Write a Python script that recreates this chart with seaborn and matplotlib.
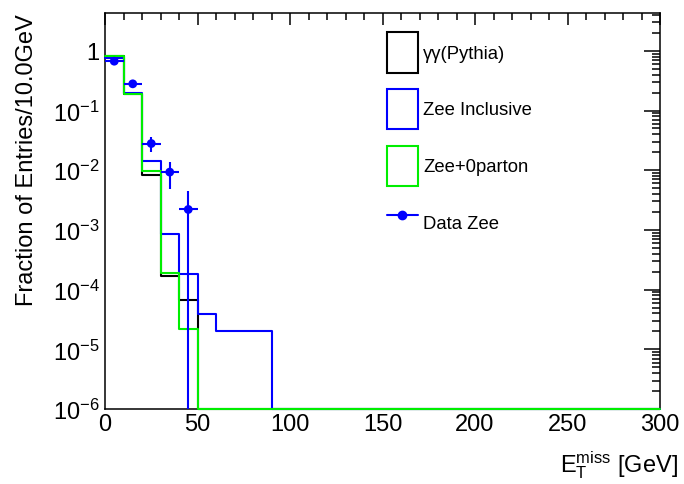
import numpy as np
import pandas as pd
import matplotlib
matplotlib.use("Agg")
import matplotlib.pyplot as plt
import seaborn as sns
from matplotlib.patches import Patch
from matplotlib.lines import Line2D
from matplotlib.ticker import MultipleLocator, LogLocator, FuncFormatter, NullFormatter

# ---------------- data ----------------
bin_width = 10          # GeV
x_max = 300             # GeV
pythia_gg = [0.81, 0.19, 8.4e-3, 1.7e-4, 6.6e-5]
zee_inclusive = [0.76, 0.20, 1.44e-2, 8.4e-4, 1.8e-4, 3.9e-5, 2.0e-5, 2.0e-5, 2.0e-5]
zee_0parton = [0.81, 0.19, 9.7e-3, 1.9e-4, 2.2e-5]
data_met = [5, 15, 25, 35, 45]
data_zee = [0.67, 0.28, 0.028, 0.0093, 0.0022]
data_zee_err = [0.037, 0.025, 0.0079, 0.0045, 0.0022]
series_labels = ["γγ(Pythia)", "Zee Inclusive", "Zee+0parton"]
data_label = "Data Zee"
x_label = r"$\mathregular{E_T^{miss}}$ [GeV]"
y_label = "Fraction of Entries/10.0GeV"
y_min, y_max = 1e-6, 4.3

edges = np.arange(0, x_max + bin_width, bin_width)
centers = edges[:-1] + bin_width / 2

sns.set_theme(style="white")
plt.rcParams["font.family"] = ["Liberation Sans", "DejaVu Sans"]
plt.rcParams["mathtext.fontset"] = "custom"
plt.rcParams["mathtext.rm"] = "Liberation Sans"
plt.rcParams["mathtext.it"] = "Liberation Sans:italic"
plt.rcParams["mathtext.bf"] = "Liberation Sans:bold"
plt.rcParams["text.color"] = "black"
plt.rcParams["axes.labelcolor"] = "black"
plt.rcParams["xtick.color"] = "black"
plt.rcParams["ytick.color"] = "black"

fig = plt.figure(figsize=(6.84, 4.85), dpi=100)
ax = fig.add_axes([105 / 684, 1 - 410 / 485, 555 / 684, 396 / 485])
ax.set_yscale("log")

colors = ["black", "#0000ff", "#00ee00"]
frames = []
for label, vals in zip(series_labels, [pythia_gg, zee_inclusive, zee_0parton]):
    h = np.zeros(len(centers))
    h[:len(vals)] = vals
    # empty bins are drawn at the axis minimum, as ROOT does
    frames.append(pd.DataFrame({"met": centers, "frac": np.maximum(h, y_min), "sample": label}))
hist_df = pd.concat(frames, ignore_index=True)

for label, color in zip(series_labels, colors):
    sub = hist_df[hist_df["sample"] == label]
    sns.histplot(data=sub, x="met", weights="frac", bins=edges.tolist(), element="step",
                 fill=False, color=color, linewidth=1.5, ax=ax, clip_on=False, zorder=3)

data_df = pd.DataFrame({"met": data_met, "frac": data_zee, "err": data_zee_err})
ax.errorbar(data_df["met"], data_df["frac"], yerr=data_df["err"], xerr=bin_width / 2,
            fmt="none", ecolor="#0000ff", elinewidth=1.5, capsize=0, zorder=4)
sns.scatterplot(data=data_df, x="met", y="frac", color="#0000ff", s=40,
                edgecolor="none", zorder=5, ax=ax, legend=False)

ax.set_xlim(0, x_max)
ax.set_ylim(y_min, y_max)

# ticks
ax.xaxis.set_major_locator(MultipleLocator(50))
ax.xaxis.set_minor_locator(MultipleLocator(10))
ax.yaxis.set_major_locator(LogLocator(base=10, numticks=20))
ax.yaxis.set_minor_locator(LogLocator(base=10, subs=np.arange(2, 10), numticks=20))
ax.yaxis.set_minor_formatter(NullFormatter())


def yfmt(v, pos):
    e = int(round(np.log10(v)))
    if e == 0:
        return "1"
    return r"$\mathregular{10^{%d}}$" % e


ax.yaxis.set_major_formatter(FuncFormatter(yfmt))
ax.tick_params(which="both", direction="in", top=True, right=True, width=1.1,
               labelsize=17, colors="black")
ax.tick_params(axis="x", which="major", length=8.6, pad=3)
ax.tick_params(axis="x", which="minor", length=5)
ax.tick_params(axis="y", which="major", length=11.5, pad=4)
ax.tick_params(axis="y", which="minor", length=5.8)

for sp in ax.spines.values():
    sp.set_color("black")
    sp.set_linewidth(1.1)
    sp.set_zorder(2.5)

ax.set_xlabel(x_label, fontsize=17, ha="right")
ax.xaxis.set_label_coords(1.032, -0.139)
ax.xaxis.label.set_va("center")
ax.set_ylabel(y_label, fontsize=17, ha="right")
ax.yaxis.set_label_coords(-0.14, 1.0)
ax.yaxis.label.set_va("center")

handles = [Patch(facecolor="none", edgecolor=c, linewidth=1.5) for c in colors]
handles.append(Line2D([], [], color="#0000ff", marker="o", markersize=6, linewidth=1.5))
ax.legend(handles, series_labels + [data_label], loc="upper left",
          bbox_to_anchor=(0.508, 0.952), frameon=False, fontsize=13.3,
          handlelength=1.68, handleheight=3.0, labelspacing=0.88,
          handletextpad=0.27, borderpad=0, borderaxespad=0, numpoints=1)

fig.savefig("out.png", dpi=100)
